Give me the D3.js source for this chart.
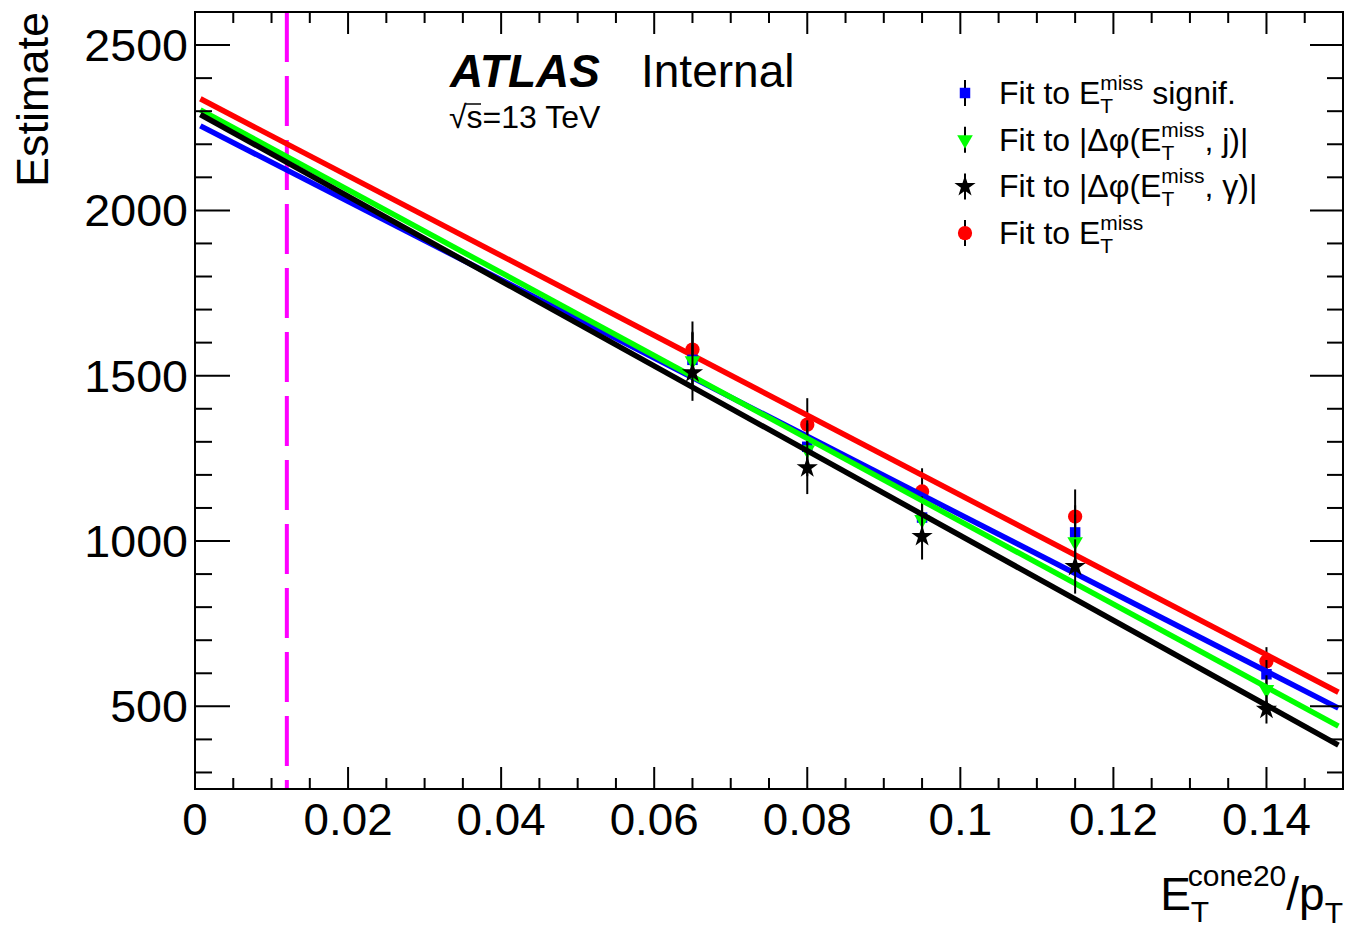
<!DOCTYPE html>
<html>
<head>
<meta charset="utf-8">
<script src="https://cdn.jsdelivr.net/npm/d3@7"></script>
<style>
  body { margin: 0; background: #fff; }
  text { font-family: "Liberation Sans", Arial, sans-serif; fill: #000; }
</style>
</head>
<body>
<svg width="1345" height="933"></svg>
<script>
// measured points (x = isolation cut, y = estimate)
const xVals = [0.065, 0.08, 0.095, 0.115, 0.14];
const metSignif = [1548, 1285, 1071, 1026, 597];
const dphiJet = [1545, 1276, 1065, 998, 551];
const dphiGamma = [1509, 1222, 1014, 923, 491];
const met = [1579, 1352, 1150, 1074, 636];
const errs = [85, 80, 70, 82, 43];

// linear fits: [intercept, slope]
const fitSignif = [2264, -11843];
const fitDphiJet = [2313, -12535];
const fitDphiGamma = [2299, -12825];
const fitMet = [2346, -12071];
const fitRange = [0.0007, 0.1494];

const cutValue = 0.012;

const xTicks = [0, 0.02, 0.04, 0.06, 0.08, 0.1, 0.12, 0.14];
const xTickLabels = ['0', '0.02', '0.04', '0.06', '0.08', '0.1', '0.12', '0.14'];
const yTicks = [500, 1000, 1500, 2000, 2500];

const svg = d3.select('svg');
const L = 195, R = 1343, T = 12, B = 789;

const x = d3.scaleLinear().domain([0, 0.15]).range([L, R]);
const y = d3.scaleLinear().domain([250, 2600]).range([B, T]);

// series in drawing order
const series = [
    { name: 'met', vals: met, fit: fitMet, color: '#ff0000', shape: 'circle' },
    { name: 'signif', vals: metSignif, fit: fitSignif, color: '#0000ff', shape: 'square' },
    { name: 'jet', vals: dphiJet, fit: fitDphiJet, color: '#00ff00', shape: 'tri' },
    { name: 'gamma', vals: dphiGamma, fit: fitDphiGamma, color: '#000000', shape: 'star' }
];

function markerPath(shape) {
    if (shape == 'circle') return d3.symbol(d3.symbolCircle, 160)();
    if (shape == 'square') return d3.symbol(d3.symbolSquare, 110)();
    if (shape == 'tri') return d3.symbol(d3.symbolTriangle, 105)();
    return d3.symbol(d3.symbolStar, 140)();
}

// dashed cut line
svg.append('line')
    .attr('x1', x(cutValue)).attr('x2', x(cutValue))
    .attr('y1', y.range()[1]).attr('y2', y.range()[0])
    .attr('stroke', '#ff00ff').attr('stroke-width', 4)
    .attr('stroke-dasharray', '50,14');

series.forEach(s => {
    const g = svg.append('g');
    const pts = xVals.map((xv, i) => ({ x: xv, y: s.vals[i], e: errs[i] }));
    g.selectAll('line.err').data(pts).join('line')
        .attr('class', 'err')
        .attr('x1', d => x(d.x)).attr('x2', d => x(d.x))
        .attr('y1', d => y(d.y - d.e)).attr('y2', d => y(d.y + d.e))
        .attr('stroke', '#000').attr('stroke-width', 2);
    g.selectAll('path.mk').data(pts).join('path')
        .attr('class', 'mk')
        .attr('d', markerPath(s.shape))
        .attr('transform', d => `translate(${x(d.x)},${y(d.y)})` + (s.shape == 'tri' ? ' rotate(180)' : ''))
        .attr('fill', s.color);
    g.append('line')
        .attr('x1', x(fitRange[0])).attr('y1', y(s.fit[0] + s.fit[1] * fitRange[0]))
        .attr('x2', x(fitRange[1])).attr('y2', y(s.fit[0] + s.fit[1] * fitRange[1]))
        .attr('stroke', s.color).attr('stroke-width', 5.5);
});

// axes ticks (inside, on all four sides)
const xMinor = d3.range(0, 0.1501, 0.005).filter(v => !xTicks.some(t => Math.abs(t - v) < 1e-9));
const yMinor = d3.range(300, 2601, 100).filter(v => yTicks.indexOf(v) < 0);

const axes = svg.append('g').attr('stroke', '#000').attr('stroke-width', 2);
function tickLines(vals, fn) {
    axes.append('g').selectAll('line').data(vals).join('line').each(function (d) {
        const c = fn(d);
        d3.select(this).attr('x1', c[0]).attr('y1', c[1]).attr('x2', c[2]).attr('y2', c[3]);
    });
}
tickLines(xTicks, d => [x(d), B, x(d), B - 22]);
tickLines(xMinor, d => [x(d), B, x(d), B - 11]);
tickLines(xTicks, d => [x(d), T, x(d), T + 22]);
tickLines(xMinor, d => [x(d), T, x(d), T + 11]);
tickLines(yTicks, d => [L, y(d), L + 35, y(d)]);
tickLines(yMinor, d => [L, y(d), L + 17, y(d)]);
tickLines(yTicks, d => [R, y(d), R - 33, y(d)]);
tickLines(yMinor, d => [R, y(d), R - 16, y(d)]);

svg.append('rect')
    .attr('x', L).attr('y', T).attr('width', R - L).attr('height', B - T)
    .attr('fill', 'none').attr('stroke', '#000').attr('stroke-width', 2);

// tick labels (slightly wider glyphs like the original)
svg.append('g').selectAll('text').data(xTicks).join('text')
    .attr('transform', d => `translate(${x(d)},835) scale(1.04,1)`)
    .attr('text-anchor', 'middle').attr('font-size', 44)
    .text((d, i) => xTickLabels[i]);
svg.append('g').selectAll('text').data(yTicks).join('text')
    .attr('transform', d => `translate(188,${y(d) + 16}) scale(1.06,1)`)
    .attr('text-anchor', 'end').attr('font-size', 44)
    .text(d => d);

// axis titles
svg.append('text')
    .attr('transform', 'translate(48,12) rotate(-90)')
    .attr('text-anchor', 'end').attr('font-size', 45)
    .text('Estimate');

const xt = svg.append('text').attr('x', 1343).attr('y', 910)
    .attr('text-anchor', 'end').attr('font-size', 46);
xt.append('tspan').text('E');
xt.append('tspan').attr('font-size', 30).attr('dy', 12).text('T');
xt.append('tspan').attr('font-size', 30).attr('dx', -18).attr('dy', -36).text('cone20');
xt.append('tspan').attr('dy', 24).text('/p');
xt.append('tspan').attr('font-size', 30).attr('dy', 13).text('T');

// ATLAS label
svg.append('text').attr('x', 450).attr('y', 87)
    .attr('font-size', 46).attr('font-weight', 'bold').attr('font-style', 'italic')
    .text('ATLAS');
svg.append('text').attr('x', 641).attr('y', 87)
    .attr('font-size', 46).text('Internal');
svg.append('text').attr('x', 449).attr('y', 128)
    .attr('font-size', 32).text('\u221As=13 TeV');
svg.append('line').attr('x1', 466).attr('x2', 481).attr('y1', 104).attr('y2', 104)
    .attr('stroke', '#000').attr('stroke-width', 1.5);

// legend
const legendRows = [
    { shape: 'square', color: '#0000ff', pre: 'Fit to E', post: ' signif.' },
    { shape: 'tri', color: '#00ff00', pre: 'Fit to |\u0394\u03C6(E', post: ', j)|' },
    { shape: 'star', color: '#000000', pre: 'Fit to |\u0394\u03C6(E', post: ', \u03B3)|' },
    { shape: 'circle', color: '#ff0000', pre: 'Fit to E', post: '' }
];
const leg = svg.append('g');
legendRows.forEach((r, i) => {
    const cy = 93 + i * 46.7;
    leg.append('line').attr('x1', 965).attr('x2', 965)
        .attr('y1', cy - 13).attr('y2', cy + 13)
        .attr('stroke', '#000').attr('stroke-width', 2);
    leg.append('path').attr('d', markerPath(r.shape))
        .attr('transform', `translate(965,${cy})` + (r.shape == 'tri' ? ' rotate(180)' : ''))
        .attr('fill', r.color);
    const t = leg.append('text').attr('x', 999).attr('y', cy + 11).attr('font-size', 32);
    t.append('tspan').text(r.pre);
    t.append('tspan').attr('font-size', 21).attr('dy', 9).text('T');
    t.append('tspan').attr('font-size', 21).attr('dx', -13).attr('dy', -23).text('miss');
    if (r.post) t.append('tspan').attr('dy', 14).text(r.post);
});
</script>
</body>
</html>
